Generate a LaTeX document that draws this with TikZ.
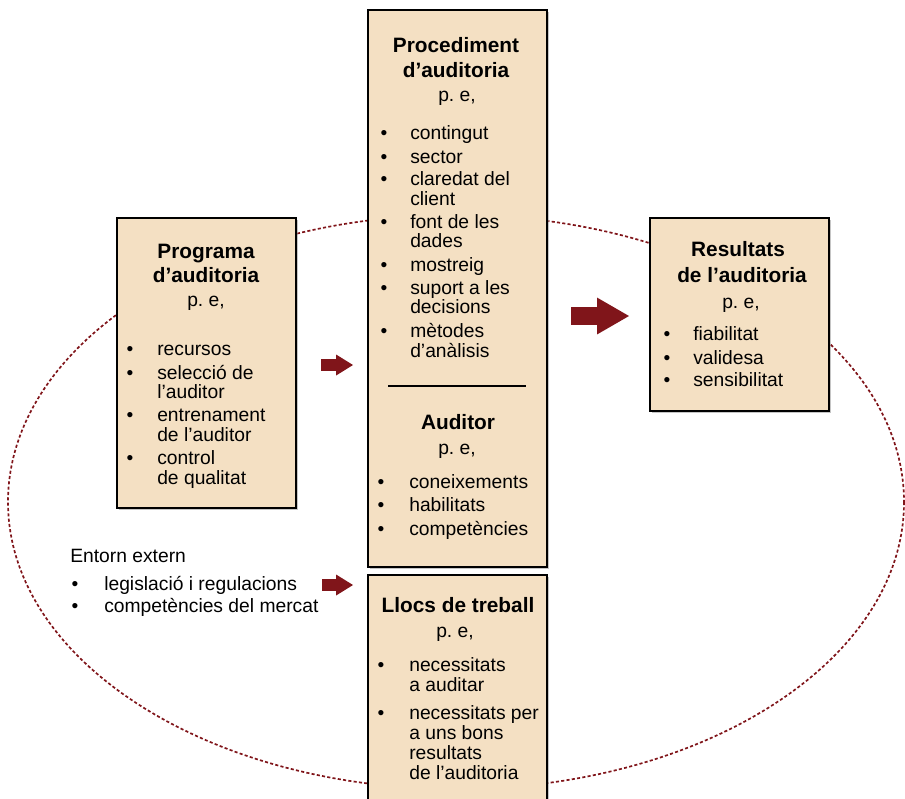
\documentclass[tikz,border=0pt]{standalone}
\usepackage{fontspec}
\setmainfont{Liberation Sans}
\usetikzlibrary{arrows.meta,fit,shadows}
\definecolor{beige}{RGB}{244,224,195}
\definecolor{auditred}{RGB}{128,21,26}

\begin{document}
\begin{tikzpicture}[x=0.025cm,y=-0.025cm,font=\fontsize{13.7}{14}\selectfont,
  box/.style={draw,line width=.9pt,fill=beige,inner sep=0pt,
    drop shadow={shadow xshift=1.3pt,shadow yshift=-1.3pt,fill=black!45}},
  ttl/.style={anchor=base,inner sep=0pt,font=\fontsize{14.8}{16}\selectfont\bfseries},
  pe/.style={anchor=base,inner sep=0pt},
  entry/.style={anchor=base west,inner sep=0pt},
  bul/.style={anchor=base,inner sep=0pt},
  blk/.style={draw=auditred,line width=8.5pt,
    -{Triangle[width=14.9pt,length=12pt,line width=0pt]}},
  bigblk/.style={draw=auditred,line width=12.8pt,
    -{Triangle[width=26.2pt,length=22.7pt,line width=0pt]}}]
  \useasboundingbox (0,0) rectangle (905,798);

  % environment
  \draw[auditred,line width=1.2pt,dash pattern=on 2.2pt off 1.6pt]
    (456,502) ellipse [x radius=448,y radius=287];

  % boxes
  \node[box,fit={(117,218) (296,508)}] (prog) {};
  \node[box,fit={(368,10) (547,567)}] (proc) {};
  \node[box,fit={(368,575) (547,815)}] (llocs) {};
  \node[box,fit={(650,218) (829,411)}] (res) {};

  % programa d'auditoria
  \node[ttl] (progt1) at (206,258) {Programa};
  \node[ttl] (progt2) at (206,282) {d’auditoria};
  \node[pe] (progpe) at (206,306) {p.\ e,};
  \foreach \y in {355,379,421,464} \node[bul] at (130,\y) {•};
  \foreach \t/\y in {recursos/355,selecció de/379,l’auditor/398,
    entrenament/421,de l’auditor/441,control/464,de qualitat/484}
    \node[entry] at (157,\y) {\t};

  % procediment d'auditoria
  \node[ttl] (proct1) at (456,52) {Procediment};
  \node[ttl] (proct2) at (456,77) {d’auditoria};
  \node[pe] (procpe) at (457,101) {p.\ e,};
  \foreach \y in {139,163,185,228,271,294,337} \node[bul] at (384,\y) {•};
  \foreach \t/\y in {contingut/139,sector/163,claredat del/185,client/205,
    font de les/228,dades/247,mostreig/271,suport a les/294,decisions/313,
    mètodes/337,d’anàlisis/357}
    \node[entry] at (410,\y) {\t};
  \draw[line width=.9pt] (388,386) -- (526,386);

  % auditor
  \node[ttl] (audt) at (458,429) {Auditor};
  \node[pe] (audpe) at (457,454) {p.\ e,};
  \foreach \y in {488,511,535} \node[bul] at (381,\y) {•};
  \foreach \t/\y in {coneixements/488,habilitats/511,competències/535}
    \node[entry] at (409,\y) {\t};

  % llocs de treball
  \node[ttl] (llocst) at (458,612) {Llocs de treball};
  \node[pe] (llocspe) at (455,637) {p.\ e,};
  \foreach \y in {671,719} \node[bul] at (381,\y) {•};
  \foreach \t/\y in {necessitats/671,a auditar/691,necessitats per/719,
    a uns bons/739,resultats/759,de l’auditoria/779}
    \node[entry] at (409,\y) {\t};

  % resultats de l'auditoria
  \node[ttl] (rest1) at (738,256) {Resultats};
  \node[ttl] (rest2) at (742,282) {de l’auditoria};
  \node[pe] (respe) at (741,308) {p.\ e,};
  \foreach \y in {340,364,386} \node[bul] at (667,\y) {•};
  \foreach \t/\y in {fiabilitat/340,validesa/364,sensibilitat/386}
    \node[entry] at (693,\y) {\t};

  % entorn extern
  \node[entry] (ent) at (70,562) {Entorn extern};
  \foreach \y in {590,612} \node[bul] at (75,\y) {•};
  \node[entry] (ent1) at (104,590) {legislació i regulacions};
  \node[entry] (ent2) at (104,612) {competències del mercat};

  % arrows
  \coordinate (a1) at (321,365); \coordinate (b1) at (353,365);
  \coordinate (a2) at (571,316); \coordinate (b2) at (629,316);
  \coordinate (a3) at (322,585); \coordinate (b3) at (353,585);
  \draw[blk] (a1) -- (b1);
  \draw[bigblk] (a2) -- (b2);
  \draw[blk] (a3) -- (b3);
\end{tikzpicture}
\end{document}
